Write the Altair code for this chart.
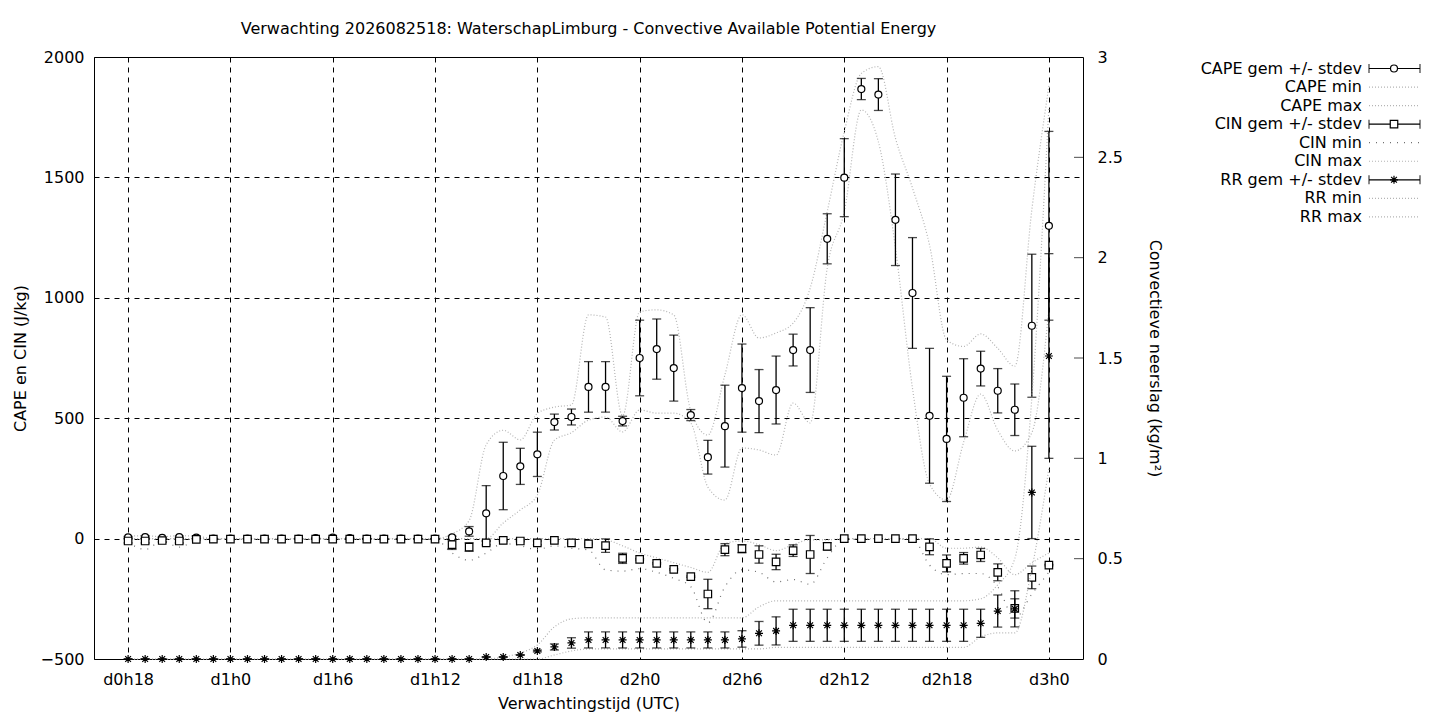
import altair as alt
import pandas as pd

FONT = "DejaVu Sans"
FS = 16

hours = list(range(18, 73))

cape_mean = [5, 6, 3, 6, 4, 0, 0, 0, 0, 0, 0, 2, 4, 2, 0, 0, 0, 0, 0,
             5, 30, 105, 260, 300, 350, 484, 505, 630, 630, 488, 750, 787, 708, 513, 338, 467, 625,
             571, 617, 783, 783, 1245, 1499, 1867, 1844, 1324, 1020, 510, 414, 585, 706, 614, 535, 884, 1299]
cape_sd = [4, 5, 2, 5, 3, 0, 0, 0, 0, 0, 0, 0, 0, 0, 0, 0, 0, 0, 0,
           5, 20, 115, 140, 75, 92, 33, 33, 105, 105, 20, 157, 125, 137, 23, 70, 170, 183,
           131, 141, 66, 176, 104, 162, 44, 66, 190, 230, 280, 260, 162, 72, 92, 107, 297, 392]
cape_min = [0, 0, 0, 0, 0, 0, 0, 0, 0, 0, 0, 0, 0, 0, 0, 0, 0, 0, 0, 0, 0, 0,
            65, 119, 181, 409, 440, 492, 505, 443, 534, 521, 521, 480, 214, 160, 376, 368, 347,
            563, 480, 1124, 1358, 1780, 1648, 1207, 624, 227, 160, 400, 600, 450, 364, 440, 950]
cape_max = [10, 12, 8, 12, 10, 0, 0, 0, 0, 0, 0, 0, 0, 0, 0, 0, 0, 0, 0,
            20, 75, 390, 450, 410, 520, 546, 555, 929, 920, 510, 942, 950, 929, 530, 430, 680, 930,
            833, 854, 895, 1040, 1358, 1690, 1932, 1960, 1663, 1456, 1219, 825, 798, 850, 790, 716, 1366, 1880]

cin_mean = [-10, -10, -8, -10, -3, -2, -2, -2, -2, -2, -2, -2, -2, -2, -2, -2, -2, -2, -2,
            -25, -35, -18, -7, -10, -18, -7, -18, -22, -29, -82, -86, -103, -128, -158, -230, -46, -42,
            -66, -97, -50, -66, -32, 0, 0, 0, 0, 0, -34, -103, -82, -68, -140, -290, -161, -110]
cin_sd = [8, 8, 6, 8, 3, 0, 0, 0, 0, 0, 0, 0, 0, 0, 0, 0, 0, 0, 0,
          20, 18, 8, 3, 3, 8, 3, 3, 3, 28, 21, 3, 3, 3, 3, 61, 25, 17,
          36, 32, 24, 79, 15, 0, 0, 0, 0, 0, 33, 35, 24, 27, 35, 40, 47, 3]
cin_min = [-15, -45, -10, -35, -8, -3, -3, -3, -3, -3, -3, -3, -3, -3, -3, -3, -3, -3, -3,
           -60, -90, -60, -20, -30, -45, -30, -40, -47, -130, -135, -125, -140, -165, -200, -350, -200, -130,
           -140, -180, -170, -190, -80, -2, -2, -2, -2, -2, -110, -150, -145, -145, -200, -330, -230, -140]
cin_max = [0, 0, 0, 0, 0, 0, 0, 0, 0, 0, 0, 0, 0, 0, 0, 0, 0, 0, 0,
           0, 0, 0, 0, 0, 0, 0, 0, 0, -5, -30, -60, -80, -100, -120, -140, -20, -10,
           -25, -50, -25, -5, -5, 0, 0, 0, 0, 0, 0, -40, -40, -35, -80, -150, -100, -60]

rr_mean = [0, 0, 0, 0, 0, 0, 0, 0, 0, 0, 0, 0, 0, 0, 0, 0, 0, 0, 0,
           0, 0, 0.01, 0.01, 0.02, 0.04, 0.06, 0.08, 0.095, 0.095, 0.095, 0.095, 0.095, 0.095, 0.095, 0.095, 0.095, 0.1,
           0.128, 0.14, 0.168, 0.168, 0.168, 0.168, 0.168, 0.168, 0.168, 0.168, 0.168, 0.168, 0.168, 0.178, 0.239, 0.25, 0.83, 1.51]
rr_sd = [0, 0, 0, 0, 0, 0, 0, 0, 0, 0, 0, 0, 0, 0, 0, 0, 0, 0, 0,
         0, 0, 0, 0, 0, 0.005, 0.015, 0.026, 0.04, 0.04, 0.04, 0.04, 0.04, 0.04, 0.04, 0.04, 0.04, 0.041,
         0.059, 0.07, 0.08, 0.08, 0.08, 0.08, 0.08, 0.08, 0.08, 0.08, 0.08, 0.08, 0.08, 0.07, 0.08, 0.09, 0.23, 0.51]
rr_min = [0, 0, 0, 0, 0, 0, 0, 0, 0, 0, 0, 0, 0, 0, 0, 0, 0, 0, 0,
          0, 0, 0, 0, 0, 0, 0.02, 0.04, 0.05, 0.05, 0.05, 0.05, 0.05, 0.05, 0.05, 0.05, 0.05, 0.05,
          0.05, 0.058, 0.058, 0.058, 0.058, 0.058, 0.058, 0.058, 0.058, 0.058, 0.058, 0.058, 0.058, 0.11, 0.13, 0.13, 0.45, 0.95]
rr_max = [0, 0, 0, 0, 0, 0, 0, 0, 0, 0, 0, 0, 0, 0, 0, 0, 0, 0, 0,
          0, 0, 0, 0.01, 0.03, 0.07, 0.16, 0.2, 0.205, 0.205, 0.205, 0.205, 0.205, 0.205, 0.205, 0.205, 0.205, 0.205,
          0.26, 0.29, 0.29, 0.29, 0.29, 0.29, 0.29, 0.29, 0.29, 0.29, 0.29, 0.29, 0.29, 0.3, 0.37, 0.5, 1.3, 2.75]

x_tick_values = [18, 24, 30, 36, 42, 48, 54, 60, 66, 72]
left_tick_values = [-500, 0, 500, 1000, 1500, 2000]
right_tick_values = [0, 0.5, 1, 1.5, 2, 2.5, 3]

legend_labels = ["CAPE gem +/- stdev", "CAPE min", "CAPE max",
                 "CIN gem +/- stdev", "CIN min", "CIN max",
                 "RR gem +/- stdev", "RR min", "RR max"]
legend_kind = ["err", "line", "line", "err", "line", "line", "err", "line", "line"]
legend_marker = ["circle", "", "", "square", "", "", "asterisk", "", ""]

TITLE = "Verwachting 2026082518: WaterschapLimburg - Convective Available Potential Energy"

df = pd.DataFrame({
    "hour": hours,
    "cape": cape_mean, "cape_sd": cape_sd, "cape_min": cape_min, "cape_max": cape_max,
    "cin": cin_mean, "cin_sd": cin_sd, "cin_min": cin_min, "cin_max": cin_max,
    "rr": rr_mean, "rr_sd": rr_sd, "rr_min": rr_min, "rr_max": rr_max,
})
for k in ["cape", "cin", "rr"]:
    df[k + "_lo"] = df[k] - df[k + "_sd"]
    df[k + "_hi"] = df[k] + df[k + "_sd"]

ASTERISK = "M-1,0L1,0M0,-1L0,1M-0.72,-0.72L0.72,0.72M-0.72,0.72L0.72,-0.72"
LGRAY = "#b4b4b4"
DGRAY = "#707070"

common_axis = dict(labelFont=FONT, titleFont=FONT, labelFontSize=FS, titleFontSize=FS,
                   labelColor="black", titleColor="black", titleFontWeight="normal")

x_axis = alt.Axis(values=x_tick_values,
                  labelExpr="'d' + floor(datum.value / 24) + 'h' + (datum.value % 24)",
                  title="Verwachtingstijd (UTC)", grid=True, gridDash=[5, 5], gridColor="black",
                  gridOpacity=1, gridWidth=1, ticks=False, domain=False, labelPadding=12,
                  titlePadding=8, **common_axis)
X = alt.X("hour:Q", scale=alt.Scale(domain=[16, 74], nice=False, zero=False), axis=x_axis)

left_axis = alt.Axis(values=left_tick_values, format="d", grid=True, gridDash=[5, 5], gridColor="black",
                     gridOpacity=1, gridWidth=1, ticks=False, domain=False, labelPadding=10,
                     title="CAPE en CIN (J/kg)", titlePadding=12, **common_axis)
left_scale = alt.Scale(domain=[-500, 2000], nice=False, zero=False)


def YL(field):
    return alt.Y(f"{field}:Q", scale=left_scale, axis=left_axis)


right_axis = alt.Axis(values=right_tick_values, format="~g", orient="right", grid=False, ticks=False,
                      domain=False, labelPadding=14, title="Convectieve neerslag (kg/m²)",
                      titlePadding=24, **common_axis)
right_scale = alt.Scale(domain=[0, 3], nice=False, zero=False)


def YR(field):
    return alt.Y(f"{field}:Q", scale=right_scale, axis=right_axis)


base = alt.Chart(df)


def envelope(field, Y, color, dash):
    return base.mark_line(color=color, strokeDash=dash, strokeWidth=1.2,
                          interpolate="monotone").encode(x=X, y=Y(field))


def errbars(key, Y):
    rule = base.mark_rule(color="black", strokeWidth=1.3).encode(
        x=X, y=Y(key + "_lo"), y2=alt.Y2(key + "_hi"))
    lo = base.mark_tick(orient="horizontal", size=9, thickness=1.3, color="black").encode(
        x=X, y=Y(key + "_lo"))
    hi = base.mark_tick(orient="horizontal", size=9, thickness=1.3, color="black").encode(
        x=X, y=Y(key + "_hi"))
    return [rule, lo, hi]


cape_pts = base.mark_point(shape="circle", filled=True, fill="white", stroke="black",
                           strokeWidth=1.2, size=49, opacity=1).encode(x=X, y=YL("cape"))
cin_pts = base.mark_point(shape="square", filled=True, fill="white", stroke="black",
                          strokeWidth=1.2, size=56, opacity=1).encode(x=X, y=YL("cin"))
rr_pts = base.mark_point(shape=ASTERISK, filled=False, stroke="black",
                         strokeWidth=1.2, size=64, opacity=1).encode(x=X, y=YR("rr"))

rtick_df = pd.DataFrame({"v": right_tick_values[1:-1]})
right_ticks = alt.Chart(rtick_df).mark_tick(orient="horizontal", size=18, thickness=1,
                                            color="black", clip=True).encode(
    x=alt.datum(74), y=alt.Y("v:Q", scale=right_scale, axis=right_axis))

left_group = alt.layer(
    envelope("cape_min", YL, LGRAY, [1, 2]),
    envelope("cape_max", YL, LGRAY, [1, 2]),
    envelope("cin_min", YL, DGRAY, [1, 6]),
    envelope("cin_max", YL, LGRAY, [1, 2]),
    *errbars("cape", YL),
    *errbars("cin", YL),
    cape_pts, cin_pts,
)
right_group = alt.layer(
    envelope("rr_min", YR, LGRAY, [1, 2]),
    envelope("rr_max", YR, LGRAY, [1, 2]),
    *errbars("rr", YR),
    rr_pts,
    right_ticks,
)

main = alt.layer(left_group, right_group).resolve_scale(y="independent").properties(
    width=989, height=602,
    view=alt.ViewBackground(stroke="black", strokeWidth=1),
    title=alt.TitleParams(TITLE, fontSize=FS, fontWeight="normal", font=FONT, offset=12, color="black"),
)

# legend panel (gnuplot style: text right-aligned, sample on the right)
ROW = 18.55
leg = pd.DataFrame({
    "idx": list(range(len(legend_labels))),
    "label": legend_labels,
    "kind": legend_kind,
    "marker": legend_marker,
})
leg["tx"] = 198
leg["s1"] = 205
leg["s2"] = 256
leg["sm"] = 230
leg["col"] = [LGRAY if k == "line" else "black" for k in legend_kind]
leg.loc[4, "col"] = DGRAY
leg["dash"] = ["solid", "dot", "dot", "solid", "sparse", "dot", "solid", "dot", "dot"]

LW = 258
LH = 260
lx = alt.Scale(domain=[0, LW], nice=False, zero=False)
ly = alt.Scale(domain=[-0.62, LH / ROW - 0.62], nice=False, zero=False, reverse=True)
LB = alt.Chart(leg)
LX = lambda f: alt.X(f"{f}:Q", scale=lx, axis=None)
LY = alt.Y("idx:Q", scale=ly, axis=None)

leg_text = LB.mark_text(align="right", baseline="middle", fontSize=FS, font=FONT, color="black").encode(
    x=LX("tx"), y=LY, text="label:N")
leg_line = LB.mark_rule(strokeWidth=1.2).encode(
    x=LX("s1"), x2="s2", y=LY,
    color=alt.Color("col:N", scale=None),
    strokeDash=alt.StrokeDash("dash:N", scale=alt.Scale(domain=["solid", "dot", "sparse"],
                                                         range=[[1, 0], [1, 2], [1, 6]]), legend=None))
err_leg = LB.transform_filter("datum.kind == 'err'")
leg_cap1 = err_leg.mark_tick(orient="vertical", size=9, thickness=1.3, color="black").encode(x=LX("s1"), y=LY)
leg_cap2 = err_leg.mark_tick(orient="vertical", size=9, thickness=1.3, color="black").encode(x=LX("s2"), y=LY)
leg_c = LB.transform_filter("datum.marker == 'circle'").mark_point(
    shape="circle", filled=True, fill="white", stroke="black", strokeWidth=1.2, size=49, opacity=1).encode(
    x=LX("sm"), y=LY)
leg_s = LB.transform_filter("datum.marker == 'square'").mark_point(
    shape="square", filled=True, fill="white", stroke="black", strokeWidth=1.2, size=56, opacity=1).encode(
    x=LX("sm"), y=LY)
leg_a = LB.transform_filter("datum.marker == 'asterisk'").mark_point(
    shape=ASTERISK, filled=False, stroke="black", strokeWidth=1.2, size=64, opacity=1).encode(
    x=LX("sm"), y=LY)

legend = alt.layer(leg_line, leg_cap1, leg_cap2, leg_c, leg_s, leg_a, leg_text).properties(
    width=LW, height=LH, view=alt.ViewBackground(stroke="transparent"))

chart = alt.hconcat(main, legend, spacing=0).properties(
    background="white",
    padding={"left": 3, "top": 12, "right": 0, "bottom": 0},
)
chart.save("out.html", embed_options={"renderer": "svg", "actions": False})
